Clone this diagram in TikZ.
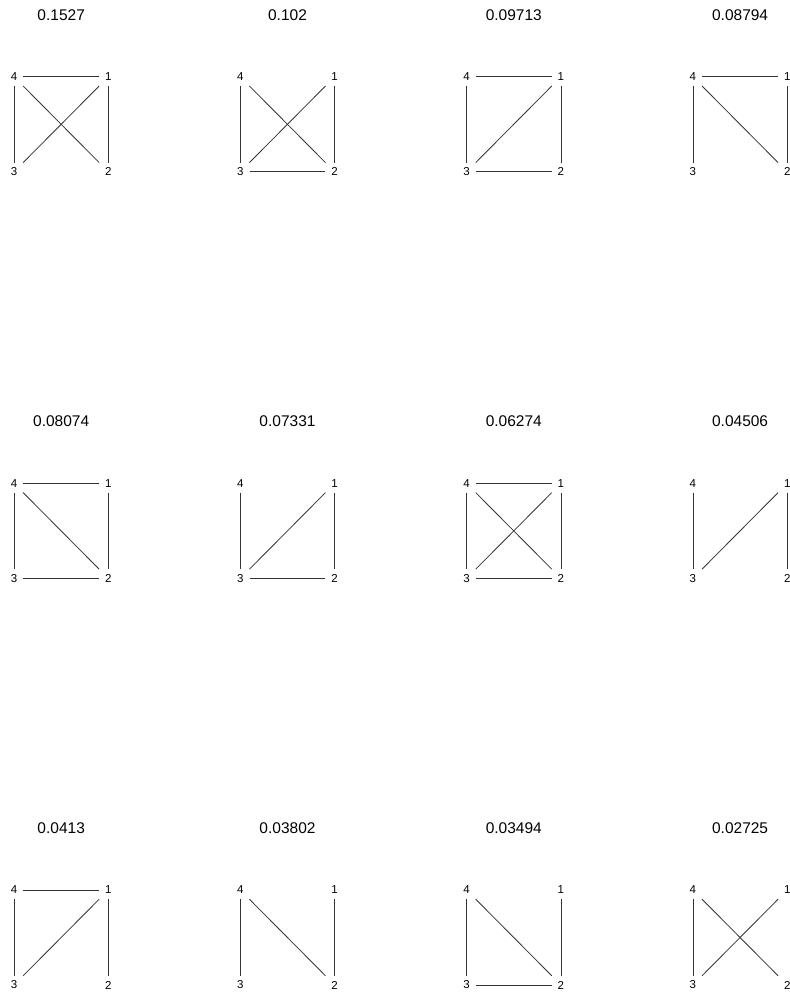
\documentclass[tikz,border=0pt]{standalone}
\usepackage{fontspec}
\setmainfont{Liberation Sans}
\usepackage{tikz}
\usetikzlibrary{positioning}
\tikzstyle{vertex} = [rectangle, minimum size=18pt, inner sep=0pt, font=\fontsize{11.5}{13}\selectfont]
\tikzstyle{score} = [inner sep=0pt, font=\fontsize{15.5}{18}\selectfont]
\tikzstyle{edge} = [draw, line width=0.8pt, black!80]

\begin{document}
\begin{tikzpicture}[x=1pt, y=-1pt]
    \useasboundingbox (0,0) rectangle (790,994);
    % Panels: index / column / row / score / edges
    \foreach \p/\c/\r/\val/\edges in {
        1/0/0/0.1527/{4/1,4/3,1/2,4/2,1/3},
        2/1/0/0.102/{4/3,1/2,4/2,1/3,3/2},
        3/2/0/0.09713/{4/1,4/3,1/2,1/3,3/2},
        4/3/0/0.08794/{4/1,4/3,1/2,4/2},
        5/0/1/0.08074/{4/1,4/3,1/2,4/2,3/2},
        6/1/1/0.07331/{4/3,1/2,1/3,3/2},
        7/2/1/0.06274/{4/1,4/3,1/2,4/2,1/3,3/2},
        8/3/1/0.04506/{4/3,1/2,1/3},
        9/0/2/0.0413/{4/1,4/3,1/2,1/3},
        10/1/2/0.03802/{4/3,1/2,4/2},
        11/2/2/0.03494/{4/3,1/2,4/2,3/2},
        12/3/2/0.02725/{4/3,4/2,1/3}} {
        \begin{scope}[shift={(226.3*\c, 406.6*\r)}]
            % Nodes
            \node (t\p) [score] at (61.2,15) {\val};
            \node (g\p-4) [vertex] at (14,76.8) {4};
            \node (g\p-1) [vertex] at (108.3,76.8) {1};
            \node (g\p-3) [vertex] at (14,171.8) {3};
            \node (g\p-2) [vertex] at (108.3,171.8) {2};
            % Edges
            \foreach \a/\b in \edges {
                \draw [edge] (g\p-\a) -- (g\p-\b);
            }
        \end{scope}
    }
\end{tikzpicture}
\end{document}
